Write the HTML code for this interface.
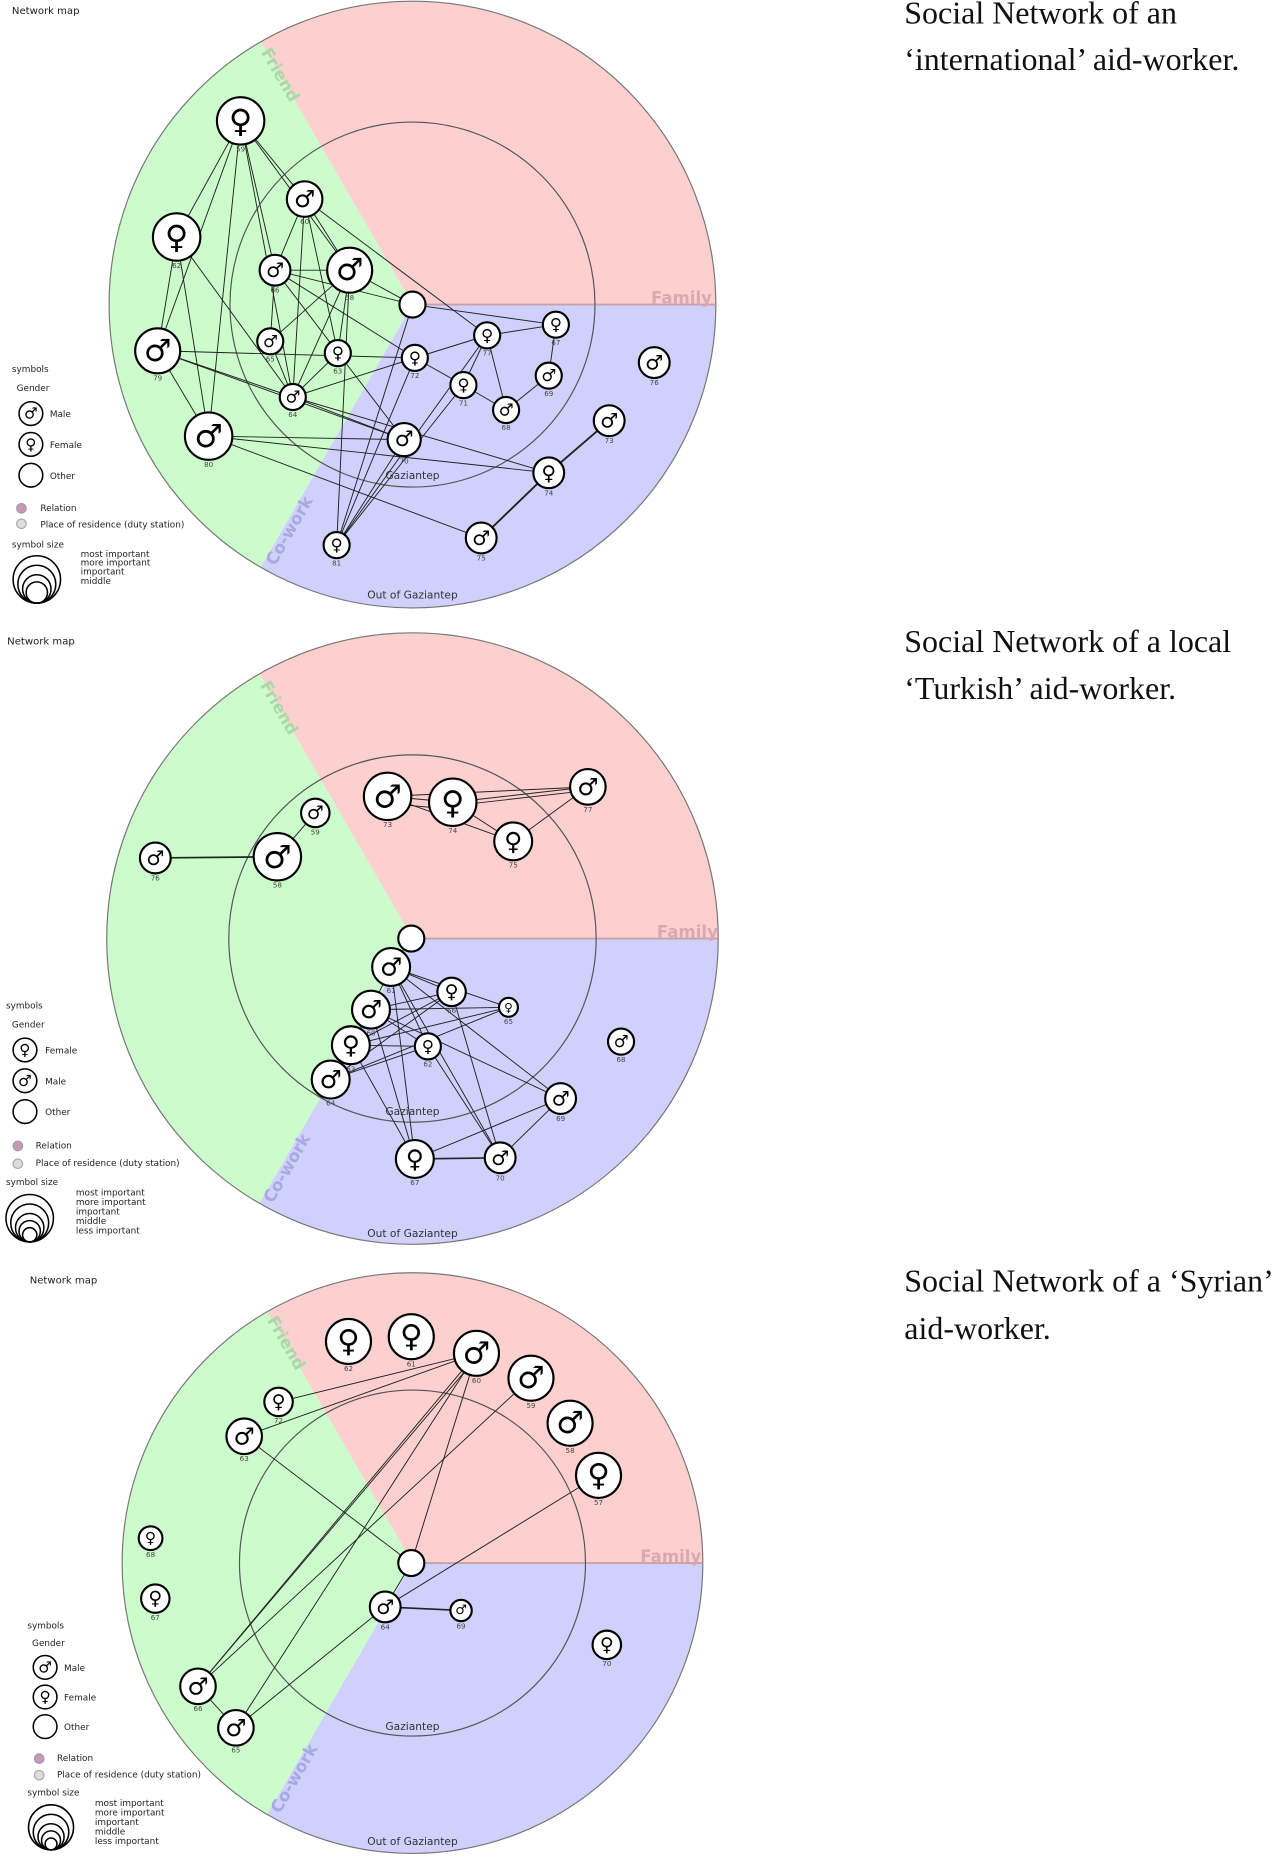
<!DOCTYPE html>
<html><head><meta charset="utf-8"><style>
html,body{margin:0;padding:0;background:#fff;}
svg{display:block}
.t{font-family:"Liberation Serif",serif;font-size:27px;fill:#111}
.s{font-family:"DejaVu Sans",sans-serif;fill:#000;text-anchor:middle;dominant-baseline:central}
.l{font-family:"DejaVu Sans",sans-serif;font-size:6px;fill:#444;text-anchor:middle}
.g{font-family:"DejaVu Sans",sans-serif;font-size:9px;fill:#333}
.lg{font-family:"DejaVu Sans",sans-serif;font-size:7.5px;fill:#222}
.e line{stroke:#222;stroke-width:.8}
.n{fill:#fff;stroke:#000;stroke-width:1.8}
</style></head><body>
<svg width="1280" height="1870" viewBox="0 0 1080 1578" xmlns="http://www.w3.org/2000/svg">
<text class="t" x="763" y="20">Social Network of an</text>
<text class="t" x="763" y="59">‘international’ aid-worker.</text>
<text class="t" x="763" y="550">Social Network of a local</text>
<text class="t" x="763" y="590">‘Turkish’ aid-worker.</text>
<text class="t" x="763" y="1090">Social Network of a ‘Syrian’</text>
<text class="t" x="763" y="1130">aid-worker.</text>

<path d="M348,257 L604,257 A256,256 0 0 0 220,35.3 Z" fill="#fdd0d0"/>
<path d="M348,257 L220,35.3 A256,256 0 0 0 220,478.7 Z" fill="#ccfccc"/>
<path d="M348,257 L220,478.7 A256,256 0 0 0 604,257 Z" fill="#cfd0fc"/>
<circle cx="348" cy="257" r="256" fill="none" stroke="#777" stroke-width="1"/>
<line x1="348" y1="257" x2="604" y2="257" stroke="#c9a0a8" stroke-width="1.5"/>
<circle cx="348" cy="257" r="154" fill="none" stroke="#555" stroke-width="1"/>
<text x="10" y="12" class="lg" style="font-size:8.5px">Network map</text>
<text x="575" y="256" class="g" style="fill:#d9a9ae;font-size:14px;font-weight:bold" text-anchor="middle">Family</text>
<text class="g" style="fill:#a9d9a9;font-size:14px;font-weight:bold" transform="translate(220,44) rotate(60)">Friend</text>
<text class="g" style="fill:#a8a9e0;font-size:14px;font-weight:bold" transform="translate(232,478) rotate(-60)">Co-work</text>
<text x="348" y="404" class="g" text-anchor="middle">Gaziantep</text>
<text x="348" y="505" class="g" text-anchor="middle">Out of Gaziantep</text>
<g class="e">
<line x1="203" y1="102" x2="149" y2="200"/><line x1="203" y1="102" x2="133" y2="296"/><line x1="203" y1="102" x2="176" y2="368"/>
<line x1="203" y1="102" x2="257" y2="168"/><line x1="203" y1="102" x2="295" y2="228"/><line x1="203" y1="102" x2="232" y2="228"/>
<line x1="203" y1="102" x2="247" y2="335"/><line x1="149" y1="200" x2="133" y2="296"/><line x1="149" y1="200" x2="176" y2="368"/>
<line x1="149" y1="200" x2="247" y2="335"/><line x1="133" y1="296" x2="176" y2="368"/><line x1="133" y1="296" x2="341" y2="371"/>
<line x1="133" y1="296" x2="350" y2="302"/><line x1="133" y1="296" x2="247" y2="335"/><line x1="176" y1="368" x2="463" y2="399"/>
<line x1="176" y1="368" x2="406" y2="454"/><line x1="257" y1="168" x2="295" y2="228"/><line x1="257" y1="168" x2="232" y2="228"/>
<line x1="257" y1="168" x2="285" y2="298"/><line x1="257" y1="168" x2="247" y2="335"/><line x1="257" y1="168" x2="411" y2="283"/>
<line x1="295" y1="228" x2="232" y2="228"/><line x1="295" y1="228" x2="348" y2="257"/><line x1="295" y1="228" x2="228" y2="288"/>
<line x1="295" y1="228" x2="285" y2="298"/><line x1="295" y1="228" x2="247" y2="335"/><line x1="232" y1="228" x2="228" y2="288"/>
<line x1="232" y1="228" x2="350" y2="302"/><line x1="232" y1="228" x2="348" y2="257"/><line x1="228" y1="288" x2="247" y2="335"/>
<line x1="285" y1="298" x2="247" y2="335"/><line x1="247" y1="335" x2="350" y2="302"/><line x1="247" y1="335" x2="341" y2="371"/>
<line x1="247" y1="335" x2="463" y2="399"/><line x1="350" y1="302" x2="411" y2="283"/><line x1="350" y1="302" x2="391" y2="325"/>
<line x1="411" y1="283" x2="469" y2="274"/><line x1="411" y1="283" x2="391" y2="325"/><line x1="411" y1="283" x2="427" y2="346"/>
<line x1="469" y1="274" x2="463" y2="317"/><line x1="463" y1="317" x2="427" y2="346"/><line x1="391" y1="325" x2="427" y2="346"/>
<line x1="391" y1="325" x2="284" y2="460"/><line x1="341" y1="371" x2="284" y2="460"/><line x1="411" y1="283" x2="284" y2="460"/>
<line x1="350" y1="302" x2="284" y2="460"/><line x1="348" y1="257" x2="469" y2="274"/><line x1="295" y1="228" x2="284" y2="460"/>
<line x1="232" y1="228" x2="341" y2="371"/><line x1="348" y1="257" x2="284" y2="460"/>
<line x1="463" y1="399" x2="406" y2="454" style="stroke-width:1.6"/><line x1="463" y1="399" x2="514" y2="355" style="stroke-width:1.6"/>
<line x1="176" y1="368" x2="341" y2="371"/>
</g>
<g>
<circle class="n" cx="348" cy="257" r="11"/>
<circle class="n" cx="203" cy="102" r="20"/><text class="s" x="203" y="102" font-size="27">♀</text><text class="l" x="203" y="128">59</text>
<circle class="n" cx="149" cy="200" r="20"/><text class="s" x="149" y="200" font-size="27">♀</text><text class="l" x="149" y="226">62</text>
<circle class="n" cx="133" cy="296" r="19"/><text class="s" x="133" y="296" font-size="26">♂</text><text class="l" x="133" y="321">79</text>
<circle class="n" cx="176" cy="368" r="20"/><text class="s" x="176" y="368" font-size="27">♂</text><text class="l" x="176" y="394">80</text>
<circle class="n" cx="257" cy="168" r="15"/><text class="s" x="257" y="168" font-size="20">♂</text><text class="l" x="257" y="189">60</text>
<circle class="n" cx="295" cy="228" r="19"/><text class="s" x="295" y="228" font-size="26">♂</text><text class="l" x="295" y="253">58</text>
<circle class="n" cx="232" cy="228" r="13"/><text class="s" x="232" y="228" font-size="17">♂</text><text class="l" x="232" y="247">66</text>
<circle class="n" cx="228" cy="288" r="11"/><text class="s" x="228" y="288" font-size="14">♂</text><text class="l" x="228" y="305">65</text>
<circle class="n" cx="285" cy="298" r="11"/><text class="s" x="285" y="298" font-size="14">♀</text><text class="l" x="285" y="315">63</text>
<circle class="n" cx="247" cy="335" r="11"/><text class="s" x="247" y="335" font-size="14">♂</text><text class="l" x="247" y="352">64</text>
<circle class="n" cx="350" cy="302" r="11"/><text class="s" x="350" y="302" font-size="14">♀</text><text class="l" x="350" y="319">72</text>
<circle class="n" cx="411" cy="283" r="11"/><text class="s" x="411" y="283" font-size="14">♀</text><text class="l" x="411" y="300">77</text>
<circle class="n" cx="469" cy="274" r="11"/><text class="s" x="469" y="274" font-size="14">♀</text><text class="l" x="469" y="291">67</text>
<circle class="n" cx="463" cy="317" r="11"/><text class="s" x="463" y="317" font-size="14">♂</text><text class="l" x="463" y="334">69</text>
<circle class="n" cx="391" cy="325" r="11"/><text class="s" x="391" y="325" font-size="14">♀</text><text class="l" x="391" y="342">71</text>
<circle class="n" cx="427" cy="346" r="11"/><text class="s" x="427" y="346" font-size="14">♂</text><text class="l" x="427" y="363">68</text>
<circle class="n" cx="341" cy="371" r="14"/><text class="s" x="341" y="371" font-size="18">♂</text><text class="l" x="341" y="391">70</text>
<circle class="n" cx="463" cy="399" r="13"/><text class="s" x="463" y="399" font-size="17">♀</text><text class="l" x="463" y="418">74</text>
<circle class="n" cx="514" cy="355" r="13"/><text class="s" x="514" y="355" font-size="17">♂</text><text class="l" x="514" y="374">73</text>
<circle class="n" cx="552" cy="306" r="13"/><text class="s" x="552" y="306" font-size="17">♂</text><text class="l" x="552" y="325">76</text>
<circle class="n" cx="406" cy="454" r="13"/><text class="s" x="406" y="454" font-size="17">♂</text><text class="l" x="406" y="473">75</text>
<circle class="n" cx="284" cy="460" r="11"/><text class="s" x="284" y="460" font-size="14">♀</text><text class="l" x="284" y="477">81</text>
</g>
<g>
<text class="lg" x="10" y="314">symbols</text><text class="lg" x="14" y="330">Gender</text>
<circle cx="26" cy="349" r="10" class="n" style="stroke-width:1.3"/><text class="s" x="26" y="349" font-size="13">♂</text><text class="lg" x="42" y="352">Male</text>
<circle cx="26" cy="375" r="10" class="n" style="stroke-width:1.3"/><text class="s" x="26" y="375" font-size="13">♀</text><text class="lg" x="42" y="378">Female</text>
<circle cx="26" cy="401" r="10" class="n" style="stroke-width:1.3"/><text class="lg" x="42" y="404">Other</text>
<circle cx="18" cy="429" r="4" fill="#c9a" stroke="#99c"/><text class="lg" x="34" y="431">Relation</text>
<circle cx="18" cy="442" r="4" fill="#ddd" stroke="#aaa"/><text class="lg" x="34" y="445">Place of residence (duty station)</text>
<text class="lg" x="10" y="462">symbol size</text>
<g fill="none" stroke="#000" stroke-width="1.3"><circle cx="31" cy="489" r="20"/><circle cx="31" cy="493" r="16"/><circle cx="31" cy="497" r="12"/><circle cx="31" cy="500" r="9"/></g>
<text class="lg" x="68" y="470">most important</text><text class="lg" x="68" y="477">more important</text><text class="lg" x="68" y="485">important</text><text class="lg" x="68" y="493">middle</text>
</g>

<path d="M348,792 L606,792 A258,258 0 0 0 219,568.6 Z" fill="#fdd0d0"/>
<path d="M348,792 L219,568.6 A258,258 0 0 0 219,1015.4 Z" fill="#ccfccc"/>
<path d="M348,792 L219,1015.4 A258,258 0 0 0 606,792 Z" fill="#cfd0fc"/>
<circle cx="348" cy="792" r="258" fill="none" stroke="#777" stroke-width="1"/>
<line x1="348" y1="792" x2="606" y2="792" stroke="#c9a0a8" stroke-width="1.5"/>
<circle cx="348" cy="792" r="155" fill="none" stroke="#555" stroke-width="1"/>
<text x="6" y="544" class="lg" style="font-size:8.5px">Network map</text>
<text x="580" y="791" class="g" style="fill:#d9a9ae;font-size:14px;font-weight:bold" text-anchor="middle">Family</text>
<text class="g" style="fill:#a9d9a9;font-size:14px;font-weight:bold" transform="translate(219,578) rotate(60)">Friend</text>
<text class="g" style="fill:#a8a9e0;font-size:14px;font-weight:bold" transform="translate(230,1016) rotate(-60)">Co-work</text>
<text x="348" y="941" class="g" text-anchor="middle">Gaziantep</text>
<text x="348" y="1044" class="g" text-anchor="middle">Out of Gaziantep</text>
<g class="e">
<line x1="131" y1="724" x2="234" y2="723" style="stroke-width:1.4"/><line x1="234" y1="723" x2="266" y2="686"/>
<line x1="327" y1="672" x2="382" y2="677"/><line x1="327" y1="678" x2="382" y2="683"/><line x1="327" y1="672" x2="496" y2="664"/>
<line x1="382" y1="677" x2="496" y2="664"/><line x1="382" y1="680" x2="496" y2="667"/><line x1="327" y1="672" x2="433" y2="710"/>
<line x1="382" y1="677" x2="433" y2="710"/><line x1="433" y1="710" x2="496" y2="664"/>
<line x1="347" y1="792" x2="330" y2="816"/>
<line x1="330" y1="816" x2="381" y2="837"/><line x1="330" y1="816" x2="429" y2="850"/><line x1="330" y1="816" x2="361" y2="883"/>
<line x1="330" y1="816" x2="473" y2="927"/><line x1="330" y1="816" x2="350" y2="978"/><line x1="330" y1="816" x2="422" y2="977"/>
<line x1="313" y1="852" x2="381" y2="837"/><line x1="313" y1="852" x2="429" y2="850"/><line x1="313" y1="852" x2="361" y2="883"/>
<line x1="313" y1="852" x2="473" y2="927"/><line x1="296" y1="882" x2="381" y2="837"/><line x1="296" y1="882" x2="429" y2="850"/>
<line x1="296" y1="882" x2="361" y2="883"/><line x1="296" y1="882" x2="350" y2="978"/><line x1="279" y1="911" x2="381" y2="837"/>
<line x1="279" y1="911" x2="361" y2="883"/><line x1="279" y1="911" x2="429" y2="850"/><line x1="330" y1="816" x2="313" y2="852"/>
<line x1="313" y1="852" x2="296" y2="882"/><line x1="296" y1="882" x2="279" y2="911"/><line x1="350" y1="978" x2="422" y2="977" style="stroke-width:1.4"/>
<line x1="350" y1="978" x2="473" y2="927"/><line x1="422" y1="977" x2="473" y2="927"/><line x1="361" y1="883" x2="422" y2="977"/>
<line x1="381" y1="837" x2="422" y2="977"/><line x1="313" y1="852" x2="350" y2="978"/>
</g>
<g>
<circle class="n" cx="347" cy="792" r="11"/>
<circle class="n" cx="327" cy="672" r="20"/><text class="s" x="327" y="672" font-size="27">♂</text><text class="l" x="327" y="698">73</text>
<circle class="n" cx="382" cy="677" r="20"/><text class="s" x="382" y="677" font-size="27">♀</text><text class="l" x="382" y="703">74</text>
<circle class="n" cx="433" cy="710" r="16"/><text class="s" x="433" y="710" font-size="21">♀</text><text class="l" x="433" y="732">75</text>
<circle class="n" cx="496" cy="664" r="15"/><text class="s" x="496" y="664" font-size="20">♂</text><text class="l" x="496" y="685">77</text>
<circle class="n" cx="266" cy="686" r="12"/><text class="s" x="266" y="686" font-size="16">♂</text><text class="l" x="266" y="704">59</text>
<circle class="n" cx="234" cy="723" r="20"/><text class="s" x="234" y="723" font-size="27">♂</text><text class="l" x="234" y="749">58</text>
<circle class="n" cx="131" cy="724" r="13"/><text class="s" x="131" y="724" font-size="17">♂</text><text class="l" x="131" y="743">76</text>
<circle class="n" cx="330" cy="816" r="16"/><text class="s" x="330" y="816" font-size="21">♂</text><text class="l" x="330" y="838">61</text>
<circle class="n" cx="381" cy="837" r="12"/><text class="s" x="381" y="837" font-size="16">♀</text><text class="l" x="381" y="855">66</text>
<circle class="n" cx="429" cy="850" r="8"/><text class="s" x="429" y="850" font-size="10">♀</text><text class="l" x="429" y="864">65</text>
<circle class="n" cx="313" cy="852" r="16"/><text class="s" x="313" y="852" font-size="21">♂</text><text class="l" x="313" y="874">60</text>
<circle class="n" cx="296" cy="882" r="16"/><text class="s" x="296" y="882" font-size="21">♀</text><text class="l" x="296" y="904">63</text>
<circle class="n" cx="361" cy="883" r="11"/><text class="s" x="361" y="883" font-size="14">♀</text><text class="l" x="361" y="900">62</text>
<circle class="n" cx="279" cy="911" r="16"/><text class="s" x="279" y="911" font-size="21">♂</text><text class="l" x="279" y="933">64</text>
<circle class="n" cx="524" cy="879" r="11"/><text class="s" x="524" y="879" font-size="14">♂</text><text class="l" x="524" y="896">68</text>
<circle class="n" cx="473" cy="927" r="13"/><text class="s" x="473" y="927" font-size="17">♂</text><text class="l" x="473" y="946">69</text>
<circle class="n" cx="350" cy="978" r="16"/><text class="s" x="350" y="978" font-size="21">♀</text><text class="l" x="350" y="1000">67</text>
<circle class="n" cx="422" cy="977" r="13"/><text class="s" x="422" y="977" font-size="17">♂</text><text class="l" x="422" y="996">70</text>
</g>
<g>
<text class="lg" x="5" y="851">symbols</text><text class="lg" x="10" y="867">Gender</text>
<circle cx="21" cy="886" r="10" class="n" style="stroke-width:1.3"/><text class="s" x="21" y="886" font-size="13">♀</text><text class="lg" x="38" y="889">Female</text>
<circle cx="21" cy="912" r="10" class="n" style="stroke-width:1.3"/><text class="s" x="21" y="912" font-size="13">♂</text><text class="lg" x="38" y="915">Male</text>
<circle cx="21" cy="938" r="10" class="n" style="stroke-width:1.3"/><text class="lg" x="38" y="941">Other</text>
<circle cx="15" cy="967" r="4" fill="#c9a" stroke="#99c"/><text class="lg" x="30" y="969">Relation</text>
<circle cx="15" cy="982" r="4" fill="#ddd" stroke="#aaa"/><text class="lg" x="30" y="984">Place of residence (duty station)</text>
<text class="lg" x="5" y="1000">symbol size</text>
<g fill="none" stroke="#000" stroke-width="1.3"><circle cx="25" cy="1028" r="20"/><circle cx="25" cy="1032" r="16"/><circle cx="25" cy="1036" r="12"/><circle cx="25" cy="1039" r="9"/><circle cx="25" cy="1042" r="6"/></g>
<text class="lg" x="64" y="1009">most important</text><text class="lg" x="64" y="1017">more important</text><text class="lg" x="64" y="1025">important</text><text class="lg" x="64" y="1033">middle</text><text class="lg" x="64" y="1041">less important</text>
</g>

<path d="M348,1319 L593,1319 A245,245 0 0 0 225.5,1106.8 Z" fill="#fdd0d0"/>
<path d="M348,1319 L225.5,1106.8 A245,245 0 0 0 225.5,1531.2 Z" fill="#ccfccc"/>
<path d="M348,1319 L225.5,1531.2 A245,245 0 0 0 593,1319 Z" fill="#cfd0fc"/>
<circle cx="348" cy="1319" r="245" fill="none" stroke="#777" stroke-width="1"/>
<line x1="348" y1="1319" x2="593" y2="1319" stroke="#c9a0a8" stroke-width="1.5"/>
<circle cx="348" cy="1319" r="146" fill="none" stroke="#555" stroke-width="1"/>
<text x="25" y="1083" class="lg" style="font-size:8.5px">Network map</text>
<text x="566" y="1318" class="g" style="fill:#d9a9ae;font-size:14px;font-weight:bold" text-anchor="middle">Family</text>
<text class="g" style="fill:#a9d9a9;font-size:14px;font-weight:bold" transform="translate(225,1114) rotate(60)">Friend</text>
<text class="g" style="fill:#a8a9e0;font-size:14px;font-weight:bold" transform="translate(236,1531) rotate(-60)">Co-work</text>
<text x="348" y="1460" class="g" text-anchor="middle">Gaziantep</text>
<text x="348" y="1557" class="g" text-anchor="middle">Out of Gaziantep</text>
<g class="e">
<line x1="235" y1="1183" x2="402" y2="1142"/><line x1="206" y1="1212" x2="402" y2="1142"/><line x1="206" y1="1212" x2="347" y2="1319"/>
<line x1="167" y1="1423" x2="402" y2="1142"/><line x1="167" y1="1423" x2="400" y2="1148"/><line x1="167" y1="1423" x2="448" y2="1163"/>
<line x1="199" y1="1458" x2="402" y2="1142"/><line x1="199" y1="1458" x2="325" y2="1356"/><line x1="167" y1="1423" x2="199" y2="1458"/>
<line x1="347" y1="1319" x2="402" y2="1142"/><line x1="325" y1="1356" x2="505" y2="1245"/><line x1="325" y1="1356" x2="389" y2="1359" style="stroke-width:1.4"/>
<line x1="325" y1="1356" x2="347" y2="1319"/>
</g>
<g>
<circle class="n" cx="347" cy="1319" r="11"/>
<circle class="n" cx="294" cy="1132" r="19"/><text class="s" x="294" y="1132" font-size="26">♀</text><text class="l" x="294" y="1157">62</text>
<circle class="n" cx="347" cy="1128" r="19"/><text class="s" x="347" y="1128" font-size="26">♀</text><text class="l" x="347" y="1153">61</text>
<circle class="n" cx="402" cy="1142" r="19"/><text class="s" x="402" y="1142" font-size="26">♂</text><text class="l" x="402" y="1167">60</text>
<circle class="n" cx="448" cy="1163" r="19"/><text class="s" x="448" y="1163" font-size="26">♂</text><text class="l" x="448" y="1188">59</text>
<circle class="n" cx="481" cy="1201" r="19"/><text class="s" x="481" y="1201" font-size="26">♂</text><text class="l" x="481" y="1226">58</text>
<circle class="n" cx="505" cy="1245" r="19"/><text class="s" x="505" y="1245" font-size="26">♀</text><text class="l" x="505" y="1270">57</text>
<circle class="n" cx="235" cy="1183" r="12"/><text class="s" x="235" y="1183" font-size="16">♀</text><text class="l" x="235" y="1201">72</text>
<circle class="n" cx="206" cy="1212" r="15"/><text class="s" x="206" y="1212" font-size="20">♂</text><text class="l" x="206" y="1233">63</text>
<circle class="n" cx="127" cy="1298" r="10"/><text class="s" x="127" y="1298" font-size="13">♀</text><text class="l" x="127" y="1314">68</text>
<circle class="n" cx="131" cy="1349" r="12"/><text class="s" x="131" y="1349" font-size="16">♀</text><text class="l" x="131" y="1367">67</text>
<circle class="n" cx="325" cy="1356" r="13"/><text class="s" x="325" y="1356" font-size="17">♂</text><text class="l" x="325" y="1375">64</text>
<circle class="n" cx="389" cy="1359" r="9"/><text class="s" x="389" y="1359" font-size="11">♂</text><text class="l" x="389" y="1374">69</text>
<circle class="n" cx="512" cy="1388" r="12"/><text class="s" x="512" y="1388" font-size="16">♀</text><text class="l" x="512" y="1406">70</text>
<circle class="n" cx="167" cy="1423" r="15"/><text class="s" x="167" y="1423" font-size="20">♂</text><text class="l" x="167" y="1444">66</text>
<circle class="n" cx="199" cy="1458" r="15"/><text class="s" x="199" y="1458" font-size="20">♂</text><text class="l" x="199" y="1479">65</text>
</g>
<g>
<text class="lg" x="23" y="1374">symbols</text><text class="lg" x="27" y="1389">Gender</text>
<circle cx="38" cy="1407" r="10" class="n" style="stroke-width:1.3"/><text class="s" x="38" y="1407" font-size="13">♂</text><text class="lg" x="54" y="1410">Male</text>
<circle cx="38" cy="1432" r="10" class="n" style="stroke-width:1.3"/><text class="s" x="38" y="1432" font-size="13">♀</text><text class="lg" x="54" y="1435">Female</text>
<circle cx="38" cy="1457" r="10" class="n" style="stroke-width:1.3"/><text class="lg" x="54" y="1460">Other</text>
<circle cx="33" cy="1484" r="4" fill="#c9a" stroke="#99c"/><text class="lg" x="48" y="1486">Relation</text>
<circle cx="33" cy="1498" r="4" fill="#ddd" stroke="#aaa"/><text class="lg" x="48" y="1500">Place of residence (duty station)</text>
<text class="lg" x="23" y="1515">symbol size</text>
<g fill="none" stroke="#000" stroke-width="1.3"><circle cx="43" cy="1542" r="19"/><circle cx="43" cy="1546" r="15"/><circle cx="43" cy="1550" r="11"/><circle cx="43" cy="1553" r="8"/><circle cx="43" cy="1556" r="5"/></g>
<text class="lg" x="80" y="1524">most important</text><text class="lg" x="80" y="1532">more important</text><text class="lg" x="80" y="1540">important</text><text class="lg" x="80" y="1548">middle</text><text class="lg" x="80" y="1556">less important</text>
</g>
</svg>
</body></html>
